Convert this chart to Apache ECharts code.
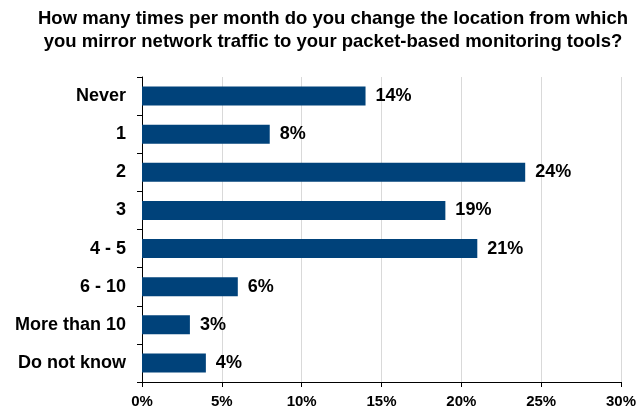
<!DOCTYPE html>
<html><head><meta charset="utf-8">
<script src="https://cdn.jsdelivr.net/npm/echarts@6/dist/echarts.min.js"></script>
<style>html,body{margin:0;padding:0;background:#fff}#c{width:644px;height:419px}</style>
</head><body><div id="c"></div>
<script>
var categories = ["Never", "1", "2", "3", "4 - 5", "6 - 10", "More than 10", "Do not know"];
var values = [14, 8, 24, 19, 21, 6, 3, 4];
var titleText = "How many times per month do you change the location from which\nyou mirror network traffic to your packet-based monitoring tools?";
var chart = echarts.init(document.getElementById('c'), null, {renderer: 'canvas'});
var font = '"Liberation Sans", Arial, sans-serif';
chart.setOption({
  animation: false,
  backgroundColor: '#fff',
  title: {
    text: titleText, left: 328, textAlign: 'center', top: 2,
    textStyle: {fontFamily: font, fontWeight: 'bold', fontSize: 18.5, lineHeight: 23, color: '#000'}
  },
  grid: {left: 142, right: 23, top: 77, bottom: 37},
  xAxis: {
    type: 'value', min: 0, max: 30, interval: 5,
    axisLine: {show: true, lineStyle: {color: '#000', width: 1}},
    axisTick: {show: true, length: 5, lineStyle: {color: '#000'}},
    splitLine: {show: true, lineStyle: {color: '#d9d9d9', width: 1}},
    axisLabel: {formatter: '{value}%', fontFamily: font, fontWeight: 'bold', fontSize: 15, color: '#000', margin: 12}
  },
  yAxis: {
    type: 'category', data: categories, inverse: true,
    axisLine: {show: true, lineStyle: {color: '#000', width: 1}},
    axisTick: {show: true, length: 5, lineStyle: {color: '#000'}},
    axisLabel: {fontFamily: font, fontWeight: 'bold', fontSize: 18, color: '#000', margin: 16}
  },
  series: [{
    type: 'bar', data: values, barWidth: '50%',
    itemStyle: {color: '#00427a'},
    label: {show: true, position: 'right', distance: 10, formatter: '{c}%',
      fontFamily: font, fontWeight: 'bold', fontSize: 18, color: '#000'}
  }]
});
</script></body></html>
